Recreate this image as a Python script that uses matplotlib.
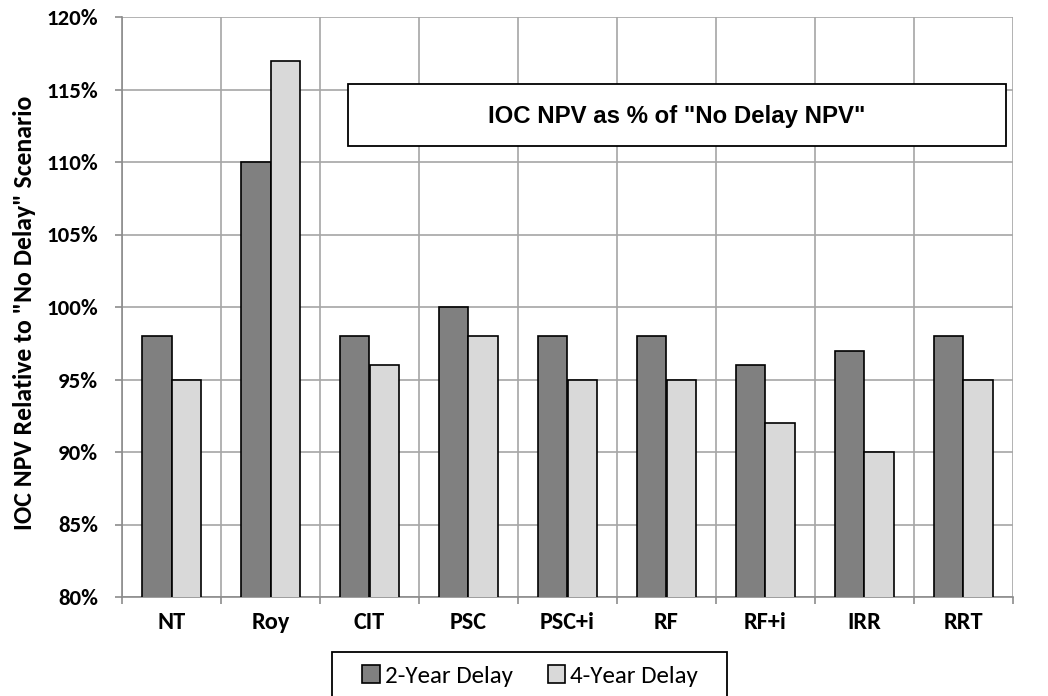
import matplotlib.pyplot as plt
import numpy as np
from matplotlib.ticker import FuncFormatter, MultipleLocator

categories = ['NT', 'Roy', 'CIT', 'PSC', 'PSC+i', 'RF', 'RF+i', 'IRR', 'RRT']
delay_2yr = [98, 110, 98, 100, 98, 98, 96, 97, 98]
delay_4yr = [95, 117, 96, 98, 95, 95, 92, 90, 95]

FONT = ['Carlito', 'Lato']

fig = plt.figure(figsize=(10.48, 6.96), dpi=100)
ax = fig.add_axes([122 / 1048, 1 - 597 / 696, 891 / 1048, 580 / 696])

x = np.arange(len(categories))
w = 0.3
ax.bar(x - w / 2, delay_2yr, w, color='#808080', edgecolor='black', linewidth=1.2,
       label='2-Year Delay', zorder=3)
ax.bar(x + w / 2, delay_4yr, w, color='#d9d9d9', edgecolor='black', linewidth=1.2,
       label='4-Year Delay', zorder=3)

ax.set_xlim(-0.5, len(categories) - 0.5)
ax.set_ylim(80, 120)
ax.yaxis.set_major_locator(MultipleLocator(5))
ax.yaxis.set_major_formatter(FuncFormatter(lambda v, p: f'{v:.0f}%'))

# gridlines on category boundaries, labels centred under each group
ax.set_xticks(np.arange(len(categories) + 1) - 0.5)
ax.set_xticklabels([])
ax.set_xticks(x, minor=True)
ax.set_xticklabels(categories, minor=True, fontweight='bold', fontsize=17.5,
                   family=FONT)
ax.tick_params(axis='x', which='minor', length=0, pad=10.5)
ax.tick_params(axis='x', which='major', length=5, color='#8c8c8c', width=1.2)
ax.tick_params(axis='y', length=5, color='#8c8c8c', width=1.2, pad=12)
for lab in ax.get_yticklabels():
    lab.set_fontweight('bold')
    lab.set_fontsize(16.5)
    lab.set_family(FONT)

ax.grid(True, which='major', color='#a6a6a6', linewidth=1.2, zorder=0)
for side in ['top', 'right']:
    ax.spines[side].set_visible(False)
for side in ['left', 'bottom']:
    ax.spines[side].set_color('#8c8c8c')
    ax.spines[side].set_linewidth(1.2)

ax.set_ylabel('IOC NPV Relative to "No Delay" Scenario', fontweight='bold',
              fontsize=18.5, family=FONT)
ax.yaxis.set_label_coords(-0.097, 0.49)

# boxed chart title inside the plot area
box = plt.Rectangle((348 / 1048, 1 - 146 / 696), 658 / 1048, 62 / 696,
                    transform=fig.transFigure, facecolor='white',
                    edgecolor='black', linewidth=1.3, zorder=4, clip_on=False)
ax.add_patch(box)
ax.text(0.5 * (348 + 1006) / 1048, 1 - 116 / 696, 'IOC NPV as % of "No Delay NPV"',
        transform=fig.transFigure, ha='center', va='center', fontsize=17.3,
        fontweight='bold', family='Liberation Sans', zorder=5)

# legend entries plus a separate frame that runs off the bottom edge
leg = fig.legend(loc='center', bbox_to_anchor=(530 / 1048, 1 - 676 / 696),
                 ncol=2, frameon=False, prop={'family': FONT, 'size': 18},
                 handlelength=0.7, handleheight=0.7, handletextpad=0.2,
                 columnspacing=1.4, borderpad=0, borderaxespad=0)
fig.patches.append(plt.Rectangle((332 / 1048, -0.02), 395 / 1048, 0.02 + 44 / 696,
                                 transform=fig.transFigure, facecolor='none',
                                 edgecolor='black', linewidth=1.3))

fig.savefig('out.png', dpi=100)
